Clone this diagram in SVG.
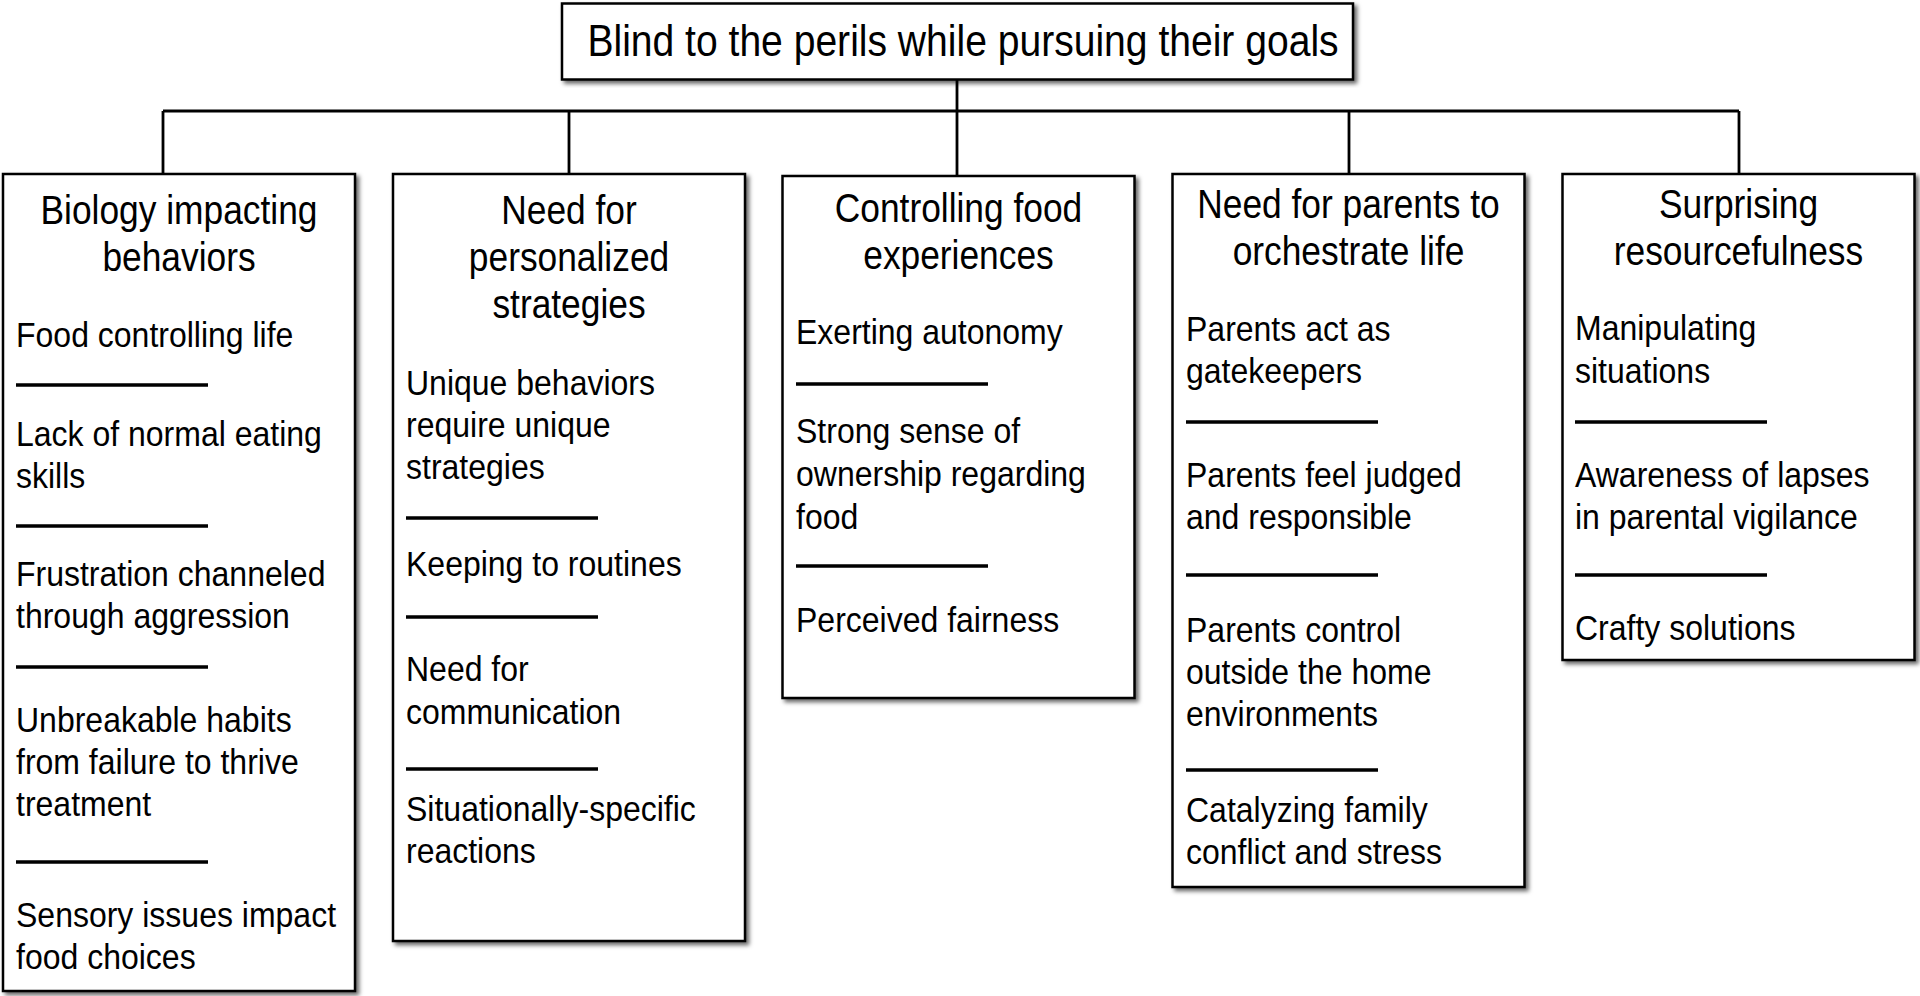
<svg xmlns="http://www.w3.org/2000/svg" width="1920" height="996" viewBox="0 0 1920 996">
<defs>
<filter id="sh" x="-5%" y="-5%" width="115%" height="115%">
<feDropShadow dx="3" dy="3" stdDeviation="2.2" flood-color="#000" flood-opacity="0.6"/>
</filter>
</defs>
<style>
.box{fill:#fff;stroke:#000;stroke-width:2.5;filter:url(#sh)}
.con{stroke:#000;stroke-width:2.8;fill:none}
.sep{stroke:#000;stroke-width:3.6}
text{font-family:"Liberation Sans",Arial,sans-serif;fill:#000}
.top{font-size:44px}
.h{font-size:41px;text-anchor:middle}
.b{font-size:36px}
</style>
<rect width="1920" height="996" fill="#fff"/>
<g id="connectors">
<path class="con" d="M957,80V111M163,111H1739M163,111V174M569,111V174M957,111V176M1349,111V174M1739,111V174"/>
</g>
<g id="root">
<rect class="box" x="562" y="3.5" width="791" height="76"/>
<g transform="translate(963 0) scale(0.888 1)"><text class="top" x="0" y="56" text-anchor="middle">Blind to the perils while pursuing their goals</text></g>
</g>
<g id="n1">
<rect class="box" x="3" y="174" width="352" height="817"/>
<g transform="translate(179 0) scale(0.862 1)">
<text class="h" x="0" y="224">Biology impacting</text>
<text class="h" x="0" y="271">behaviors</text>
</g>
<g transform="translate(16 0) scale(0.889 1)">
<text class="b" x="0" y="347">Food controlling life</text>
<text class="b" x="0" y="446">Lack of normal eating</text>
<text class="b" x="0" y="488">skills</text>
<text class="b" x="0" y="586">Frustration channeled</text>
<text class="b" x="0" y="628">through aggression</text>
<text class="b" x="0" y="732">Unbreakable habits</text>
<text class="b" x="0" y="774">from failure to thrive</text>
<text class="b" x="0" y="816">treatment</text>
<text class="b" x="0" y="927">Sensory issues impact</text>
<text class="b" x="0" y="969">food choices</text>
</g>
<path class="sep" d="M16,385H208M16,526H208M16,667H208M16,862H208"/>
</g>
<g id="n2">
<rect class="box" x="393" y="174" width="352" height="767"/>
<g transform="translate(569 0) scale(0.862 1)">
<text class="h" x="0" y="224">Need for</text>
<text class="h" x="0" y="271">personalized</text>
<text class="h" x="0" y="318">strategies</text>
</g>
<g transform="translate(406 0) scale(0.889 1)">
<text class="b" x="0" y="395">Unique behaviors</text>
<text class="b" x="0" y="437">require unique</text>
<text class="b" x="0" y="479">strategies</text>
<text class="b" x="0" y="576">Keeping to routines</text>
<text class="b" x="0" y="681">Need for</text>
<text class="b" x="0" y="724">communication</text>
<text class="b" x="0" y="821">Situationally-specific</text>
<text class="b" x="0" y="863">reactions</text>
</g>
<path class="sep" d="M406,518H598M406,617H598M406,769H598"/>
</g>
<g id="n3">
<rect class="box" x="782.5" y="176" width="352" height="522"/>
<g transform="translate(958.5 0) scale(0.862 1)">
<text class="h" x="0" y="222">Controlling food</text>
<text class="h" x="0" y="269">experiences</text>
</g>
<g transform="translate(796 0) scale(0.889 1)">
<text class="b" x="0" y="344">Exerting autonomy</text>
<text class="b" x="0" y="443">Strong sense of</text>
<text class="b" x="0" y="486">ownership regarding</text>
<text class="b" x="0" y="529">food</text>
<text class="b" x="0" y="632">Perceived fairness</text>
</g>
<path class="sep" d="M796,384H988M796,566H988"/>
</g>
<g id="n4">
<rect class="box" x="1172.5" y="174" width="352" height="713"/>
<g transform="translate(1348.5 0) scale(0.862 1)">
<text class="h" x="0" y="218">Need for parents to</text>
<text class="h" x="0" y="265">orchestrate life</text>
</g>
<g transform="translate(1186 0) scale(0.889 1)">
<text class="b" x="0" y="341">Parents act as</text>
<text class="b" x="0" y="383">gatekeepers</text>
<text class="b" x="0" y="487">Parents feel judged</text>
<text class="b" x="0" y="529">and responsible</text>
<text class="b" x="0" y="642">Parents control</text>
<text class="b" x="0" y="684">outside the home</text>
<text class="b" x="0" y="726">environments</text>
<text class="b" x="0" y="822">Catalyzing family</text>
<text class="b" x="0" y="864">conflict and stress</text>
</g>
<path class="sep" d="M1186,422H1378M1186,575H1378M1186,770H1378"/>
</g>
<g id="n5">
<rect class="box" x="1562.5" y="174" width="352" height="486"/>
<g transform="translate(1738.5 0) scale(0.862 1)">
<text class="h" x="0" y="218">Surprising</text>
<text class="h" x="0" y="265">resourcefulness</text>
</g>
<g transform="translate(1575 0) scale(0.889 1)">
<text class="b" x="0" y="340">Manipulating</text>
<text class="b" x="0" y="383">situations</text>
<text class="b" x="0" y="487">Awareness of lapses</text>
<text class="b" x="0" y="529">in parental vigilance</text>
<text class="b" x="0" y="640">Crafty solutions</text>
</g>
<path class="sep" d="M1575,422H1767M1575,575H1767"/>
</g>
</svg>
